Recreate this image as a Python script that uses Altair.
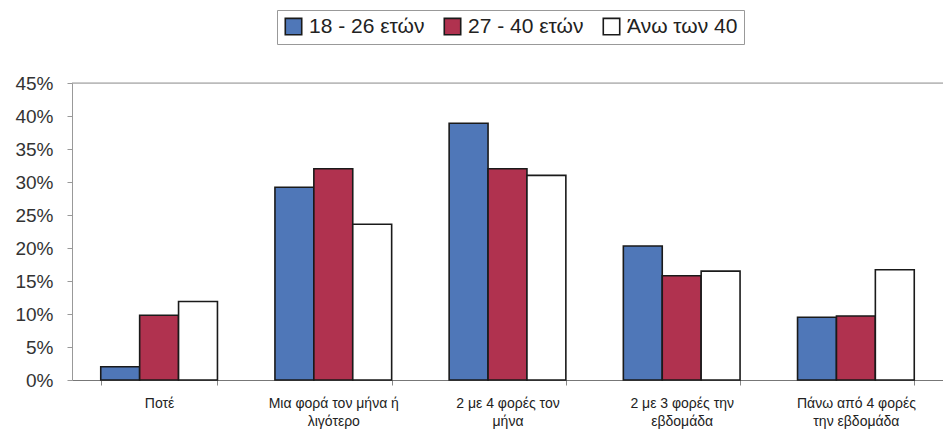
import altair as alt
import pandas as pd

categories = [
    "Ποτέ",
    "Μια φορά τον μήνα ή\nλιγότερο",
    "2 με 4 φορές τον\nμήνα",
    "2 με 3 φορές την\nεβδομάδα",
    "Πάνω από 4 φορές\nτην εβδομάδα",
]
series_names = ["18 - 26 ετών", "27 - 40 ετών", "Άνω των 40"]
age_18_26 = [2.0, 29.2, 38.9, 20.3, 9.5]
age_27_40 = [9.8, 32.0, 32.0, 15.8, 9.7]
age_40_plus = [11.9, 23.6, 31.0, 16.5, 16.7]
colors = ["#4F77B8", "#B0324F", "#FFFFFF"]
y_ticks = [0, 0.05, 0.10, 0.15, 0.20, 0.25, 0.30, 0.35, 0.40, 0.45]

rows = []
for name, vals in zip(series_names, [age_18_26, age_27_40, age_40_plus]):
    for c, v in zip(categories, vals):
        rows.append({"cat": c, "series": name, "value": v / 100.0})
df = pd.DataFrame(rows)

FONT = "Liberation Sans"

y_axis = alt.Axis(
    format=".0%",
    values=y_ticks,
    grid=False,
    labelOverlap=False,
    labelFlush=False,
    labelFont=FONT,
    labelFontSize=19,
    labelColor="#333333",
    labelPadding=14,
    tickSize=5,
    tickColor="#999999",
    domainColor="#999999",
)
y_scale = alt.Scale(domain=[0, 0.45], nice=False)

bars = alt.Chart(df).mark_bar(stroke="#1a1a1a", strokeWidth=1.6).encode(
    x=alt.X(
        "cat:N",
        sort=categories,
        title=None,
        scale=alt.Scale(paddingInner=0.33, paddingOuter=0.165),
        axis=alt.Axis(
            labelAngle=0,
            labelExpr="split(datum.label, '\\n')",
            labelFont=FONT,
            labelFontSize=14,
            labelColor="#222222",
            labelLineHeight=18,
            labelPadding=11,
            tickBand="extent",
            tickSize=5,
            tickColor="#888888",
            domainColor="#777777",
            labelBaseline="top",
        ),
    ),
    xOffset=alt.XOffset("series:N", sort=series_names),
    y=alt.Y("value:Q", title=None, scale=y_scale, axis=y_axis),
    fill=alt.Fill(
        "series:N",
        sort=series_names,
        scale=alt.Scale(domain=series_names, range=colors),
        legend=alt.Legend(
            title=None,
            orient="none",
            direction="horizontal",
            legendX=205,
            legendY=-73,
            symbolType="square",
            symbolSize=270,
            symbolStrokeColor="#1a1a1a",
            symbolStrokeWidth=1.6,
            labelFont=FONT,
            labelFontSize=21,
            labelColor="#222222",
            labelOffset=5,
            columnPadding=16,
            padding=6,
            strokeColor="#999999",
        ),
    ),
)

top_line = alt.Chart(pd.DataFrame({"v": [0.45]})).mark_rule(
    color="#999999", strokeWidth=1
).encode(y=alt.Y("v:Q", title=None, scale=y_scale, axis=y_axis))

chart = (
    alt.layer(bars, top_line)
    .properties(
        width=871,
        height=297,
        autosize=alt.AutoSizeParams(type="none"),
        padding={"left": 64, "top": 75, "right": 0, "bottom": 50},
    )
    .configure_view(stroke=None)
    .configure(background="white")
)

chart.save("out.html", embed_options={"renderer": "svg", "actions": False})
